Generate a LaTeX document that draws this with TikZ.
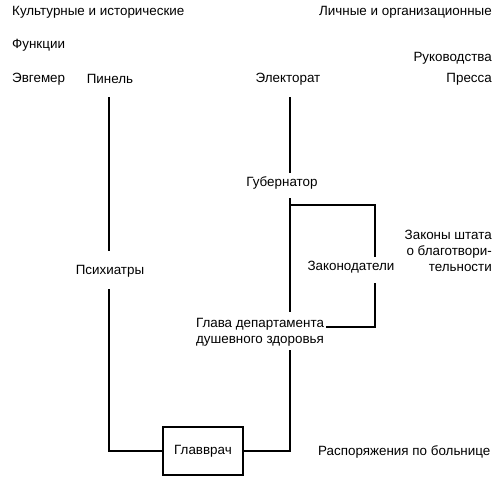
\documentclass[tikz,border=0pt]{standalone}
\usepackage{fontspec}
\setmainfont{Liberation Sans}
\usetikzlibrary{calc}
\begin{document}
\begin{tikzpicture}[x=1pt,y=-1pt,
  lbl/.style={inner sep=0pt, font=\fontsize{13.4}{16}\selectfont},
  conn/.style={line width=2.2pt},
  boxnode/.style={draw, line width=2.2pt, minimum width=80pt, minimum height=48pt, inner sep=0pt, font=\fontsize{13.4}{16}\selectfont}]
\useasboundingbox (0,0) rectangle (500,495);
% headings
\node[lbl,anchor=west] (cult) at (12,12) {Культурные и исторические};
\node[lbl,anchor=west] (func) at (12,45) {Функции};
\node[lbl,anchor=west] (evg) at (12,79) {Эвгемер};
\node[lbl] (pinel) at (110,79) {Пинель};
\node[lbl,anchor=east] (pers) at (492,12) {Личные и организационные};
\node[lbl,anchor=east] (guide) at (492,58) {Руководства};
\node[lbl] (elect) at (288,79) {Электорат};
\node[lbl,anchor=east] (press) at (492,79) {Пресса};
% middle
\node[lbl] (psych) at (110,271) {Психиатры};
\node[lbl] (gov) at (282,183) {Губернатор};
\node[lbl] (legis) at (351,267) {Законодатели};
\node[lbl,align=right,anchor=east] (laws) at (492,251) {Законы штата\\о благотвори-\\тельности};
\node[lbl,align=center] (glava) at (260,332) {Глава департамента\\душевного здоровья};
\node[boxnode] (chief) at (203,451) {Главврач};
\node[lbl,anchor=west] (orders) at (318,452) {Распоряжения по больнице};
% guide coordinates
\coordinate (lx) at (109,0);
\coordinate (sp) at (290,0);
\coordinate (bx) at (375,0);
% connectors
\draw[conn] ([yshift=-18pt]pinel.center -| lx) -- ([yshift=20pt]psych.center -| lx);
\draw[conn] ([yshift=-18pt]psych.center -| lx) |- (chief.west);
\draw[conn] (chief.east) -| ([yshift=-18pt]glava.center -| sp);
\draw[conn] ([yshift=-18pt]elect.center -| sp) -- ([yshift=10pt]gov.center -| sp);
\draw[conn] ([yshift=-15pt]gov.center -| sp) -- ([yshift=20pt]glava.center -| sp);
\draw[conn] ([yshift=-22pt]gov.center -| sp) -| ([yshift=10pt]legis.center -| bx);
\draw[conn] ([yshift=-16pt]legis.center -| bx) |- ([xshift=2pt,yshift=5pt]glava.east);
\end{tikzpicture}
\end{document}
